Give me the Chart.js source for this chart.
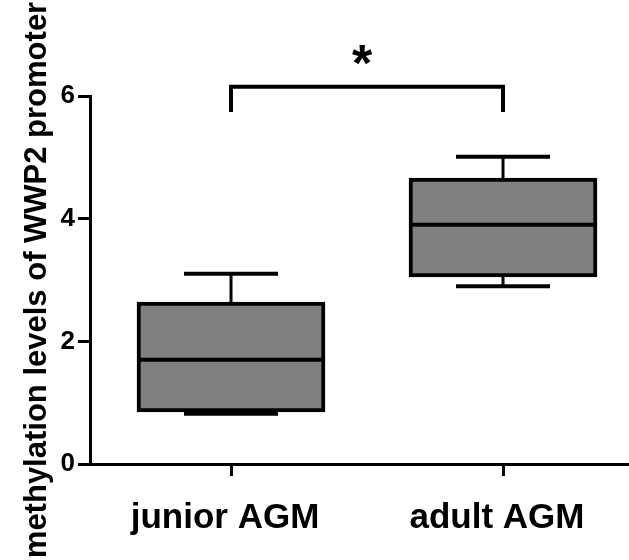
<!DOCTYPE html>
<html>
<head>
<meta charset="utf-8">
<script src="https://cdn.jsdelivr.net/npm/chart.js@4.4.1/dist/chart.umd.min.js"></script>
<style>
  body { margin: 0; background: #fff; }
</style>
</head>
<body>
<canvas id="box" width="629" height="560"></canvas>
<script>
// box plot values
const groups = ['junior AGM', 'adult AGM'];
const groupPos = [1, 2];
const mins = [0.82, 2.90];
const q1s = [0.85, 3.05];
const medians = [1.70, 3.90];
const q3s = [2.64, 4.66];
const maxs = [3.10, 5.01];
const yTicks = [0, 2, 4, 6];
const sigLabel = '*';
const sigLevel = 6.15;   // height of the significance bracket
const sigLegEnd = 5.74;

const FONT = '"Liberation Sans", Arial, sans-serif';

function line(ctx, x1, y1, x2, y2) {
  ctx.beginPath();
  ctx.moveTo(x1, y1);
  ctx.lineTo(x2, y2);
  ctx.stroke();
}

// whiskers, caps and medians are drawn on top of the floating bars
const boxPlugin = {
  id: 'boxParts',
  afterDatasetsDraw(chart) {
    const { ctx, scales: { x, y } } = chart;
    const bars = chart.getDatasetMeta(0).data;
    const capHalf = 47;
    ctx.save();
    ctx.strokeStyle = '#000';
    groupPos.forEach((g, i) => {
      const cx = x.getPixelForValue(g);
      const half = bars[i].width / 2;
      ctx.lineWidth = 3;
      line(ctx, cx, y.getPixelForValue(q3s[i]), cx, y.getPixelForValue(maxs[i]));
      line(ctx, cx, y.getPixelForValue(q1s[i]), cx, y.getPixelForValue(mins[i]));
      ctx.lineWidth = 4;
      line(ctx, cx - capHalf, y.getPixelForValue(maxs[i]), cx + capHalf, y.getPixelForValue(maxs[i]));
      line(ctx, cx - capHalf, y.getPixelForValue(mins[i]), cx + capHalf, y.getPixelForValue(mins[i]));
      line(ctx, cx - half, y.getPixelForValue(medians[i]), cx + half, y.getPixelForValue(medians[i]));
    });
    ctx.restore();
  },
  afterDraw(chart) {
    const { ctx, scales: { x, y } } = chart;
    const xa = x.getPixelForValue(groupPos[0]);
    const xb = x.getPixelForValue(groupPos[1]);
    const top = y.getPixelForValue(sigLevel);
    const legs = y.getPixelForValue(sigLegEnd);
    ctx.save();
    ctx.strokeStyle = '#000';
    ctx.lineWidth = 4;
    ctx.beginPath();
    ctx.moveTo(xa, legs);
    ctx.lineTo(xa, top);
    ctx.lineTo(xb, top);
    ctx.lineTo(xb, legs);
    ctx.stroke();
    ctx.fillStyle = '#000';
    ctx.font = 'bold 52px ' + FONT;
    ctx.textAlign = 'center';
    ctx.textBaseline = 'alphabetic';
    ctx.fillText(sigLabel, (xa + xb) / 2 - 5, top - 6);
    ctx.restore();
  }
};

Chart.defaults.font.family = FONT;
Chart.defaults.font.weight = 'bold';
Chart.defaults.color = '#000';

new Chart(document.getElementById('box'), {
  type: 'bar',
  data: {
    datasets: [{
      data: groupPos.map((g, i) => ({ x: g, y: [q1s[i], q3s[i]] })),
      backgroundColor: '#808080',
      borderColor: '#000',
      borderWidth: 4,
      borderSkipped: false,
      barThickness: 188
    }]
  },
  options: {
    responsive: false,
    animation: false,
    layout: { padding: { top: 96, right: 0, bottom: 0, left: 0 } },
    plugins: { legend: { display: false }, tooltip: { enabled: false } },
    scales: {
      x: {
        type: 'linear',
        offset: false,
        min: 0.4816,
        max: 2.4632,
        afterBuildTicks: (axis) => { axis.ticks = groupPos.map(v => ({ value: v })); },
        afterFit: (axis) => { axis.height = 96; },
        grid: { display: true, drawOnChartArea: false, offset: false, color: '#000', lineWidth: 3, tickLength: 12 },
        border: { display: true, color: '#000', width: 3 },
        ticks: {
          autoSkip: false,
          maxRotation: 0,
          padding: 21,
          labelOffset: -6,
          font: { size: 35, weight: 'bold' },
          callback: (v) => groups[groupPos.indexOf(v)]
        }
      },
      y: {
        min: 0,
        max: 6,
        afterBuildTicks: (axis) => { axis.ticks = yTicks.map(v => ({ value: v })); },
        afterFit: (axis) => { axis.width = 90; },
        grid: { display: true, drawOnChartArea: false, color: '#000', lineWidth: 3, tickLength: 12 },
        border: { display: true, color: '#000', width: 3 },
        ticks: { padding: 3, font: { size: 26, weight: 'bold' } },
        title: {
          display: true,
          text: 'methylation levels of WWP2 promoter',
          font: { size: 31, weight: 'bold' },
          padding: { top: 19, bottom: 0 }
        }
      }
    }
  },
  plugins: [boxPlugin]
});
</script>
</body>
</html>
